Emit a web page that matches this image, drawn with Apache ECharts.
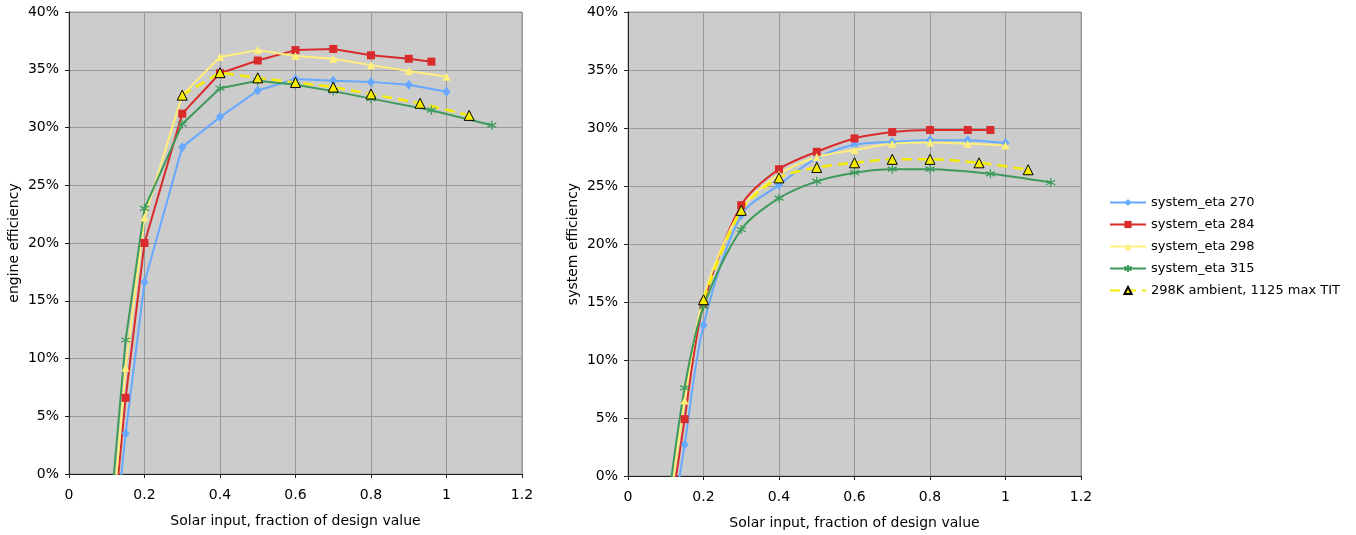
<!DOCTYPE html>
<html lang="en">

<head>
    <meta charset="UTF-8">
    <title>Efficiency vs solar input</title>
    <style>
        html, body {
            margin: 0;
            padding: 0;
            background: #fff;
        }
        #main {
            width: 1356px;
            height: 535px;
        }
    </style>
</head>

<body>
    <div id="main"></div>
</body>

<script src="https://cdn.jsdelivr.net/npm/echarts@6/dist/echarts.min.js"></script>
<script>
    // x values (fraction of design solar input)
    var x270 = [0.1, 0.15, 0.2, 0.3, 0.4, 0.5, 0.6, 0.7, 0.8, 0.9, 1.0];
    var x284 = [0.1, 0.15, 0.2, 0.3, 0.4, 0.5, 0.6, 0.7, 0.8, 0.9, 0.96];
    var x298 = [0.1, 0.15, 0.2, 0.3, 0.4, 0.5, 0.6, 0.7, 0.8, 0.9, 1.0];
    var x315 = [0.1, 0.15, 0.2, 0.3, 0.4, 0.5, 0.6, 0.7, 0.8, 0.96, 1.12];
    var xAmbLeft = [0.3, 0.4, 0.5, 0.6, 0.7, 0.8, 0.93, 1.06];
    var xAmbRight = [0.2, 0.3, 0.4, 0.5, 0.6, 0.7, 0.8, 0.93, 1.06];

    // engine efficiency, % (left chart)
    var eng270 = [-12.3, 3.5, 16.6, 28.3, 30.9, 33.2, 34.2, 34.05, 33.95, 33.7, 33.1];
    var eng284 = [-10.7, 6.6, 20.0, 31.2, 34.7, 35.8, 36.7, 36.8, 36.25, 35.95, 35.7];
    var eng298 = [-9.9, 9.2, 22.2, 32.8, 36.1, 36.7, 36.2, 35.95, 35.4, 34.9, 34.4];
    var eng315 = [-7.1, 11.6, 23.0, 30.3, 33.4, 34.05, 33.7, 33.15, 32.5, 31.5, 30.2];
    var engAmb = [32.8, 34.75, 34.3, 33.9, 33.5, 32.9, 32.1, 31.05];

    // system efficiency, % (right chart)
    var sys270 = [-7.7, 2.7, 13.0, 22.5, 25.1, 27.4, 28.55, 28.8, 28.95, 28.95, 28.7];
    var sys284 = [-6.2, 4.9, 14.85, 23.35, 26.45, 27.95, 29.1, 29.65, 29.83, 29.83, 29.83];
    var sys298 = [-5.1, 6.5, 15.4, 23.0, 26.0, 27.5, 28.1, 28.65, 28.75, 28.65, 28.5];
    var sys315 = [-3.9, 7.6, 14.6, 21.25, 23.95, 25.4, 26.15, 26.45, 26.45, 26.05, 25.3];
    var sysAmb = [15.2, 22.9, 25.7, 26.6, 27.0, 27.3, 27.3, 27.0, 26.4];

    var names = ['system_eta 270', 'system_eta 284', 'system_eta 298', 'system_eta 315', '298K ambient, 1125 max TIT'];

    function pairs(xs, ys) {
        return xs.map(function(x, i) {
            return [x, ys[i]];
        });
    }

    var font = 'DejaVu Sans';
    var asterisk = 'path://M0,-5L0,5M-4.3,-2.5L4.3,2.5M-4.3,2.5L4.3,-2.5';

    function makeSeries(idx, ys, smooth) {
        var xs = [x270, x284, x298, x315][idx];
        var base = {
            name: names[idx],
            type: 'line',
            xAxisIndex: smooth ? 1 : 0,
            yAxisIndex: smooth ? 1 : 0,
            data: pairs(xs, ys),
            smooth: smooth ? 0.3 : false,
            lineStyle: {
                width: 2
            }
        };
        if (idx === 0) {
            base.symbol = 'diamond';
            base.symbolSize = [8, 10];
            base.itemStyle = { color: '#66A9FF' };
        } else if (idx === 1) {
            base.symbol = 'rect';
            base.symbolSize = 8;
            base.itemStyle = { color: '#D92B2B' };
        } else if (idx === 2) {
            base.symbol = 'triangle';
            base.symbolSize = 8;
            base.itemStyle = { color: '#FFEF7A' };
        } else {
            base.symbol = asterisk;
            base.symbolSize = 9;
            base.itemStyle = { color: '#3E9A5C', borderColor: '#3E9A5C', borderWidth: 1.3 };
        }
        return base;
    }

    function ambSeries(xs, ys, right) {
        return {
            name: names[4],
            type: 'line',
            xAxisIndex: right ? 1 : 0,
            yAxisIndex: right ? 1 : 0,
            data: pairs(xs, ys),
            smooth: right ? 0.3 : false,
            symbol: 'triangle',
            symbolSize: 10,
            itemStyle: {
                color: '#F5EC00',
                borderColor: '#000',
                borderWidth: 1
            },
            lineStyle: {
                color: '#F5EC00',
                width: 2.5,
                type: [10, 6]
            },
            z: 3
        };
    }

    function xAxis(gridIndex) {
        return {
            type: 'value',
            gridIndex: gridIndex,
            min: 0,
            max: 1.2,
            interval: 0.2,
            name: 'Solar input, fraction of design value',
            nameLocation: 'middle',
            nameGap: 40,
            nameTextStyle: { color: '#000', fontFamily: font, fontSize: 14 },
            axisLine: { onZero: false, lineStyle: { color: '#222', width: 1 } },
            axisTick: { show: true, length: 4, lineStyle: { color: '#222' } },
            axisLabel: { color: '#000', fontFamily: font, fontSize: 14, margin: 14 },
            splitLine: { show: true, lineStyle: { color: '#999', width: 1 } }
        };
    }

    function yAxis(gridIndex, title) {
        return {
            type: 'value',
            gridIndex: gridIndex,
            min: 0,
            max: 40,
            interval: 5,
            name: title,
            nameLocation: 'middle',
            nameGap: 48,
            nameTextStyle: { color: '#000', fontFamily: font, fontSize: 14 },
            axisLine: { show: true, lineStyle: { color: '#222', width: 1 } },
            axisTick: { show: true, length: 4, lineStyle: { color: '#222' } },
            axisLabel: { color: '#000', fontFamily: font, fontSize: 14, margin: 10, formatter: '{value}%' },
            splitLine: { show: true, lineStyle: { color: '#999', width: 1 } }
        };
    }

    var myChart = echarts.init(document.getElementById('main'));
    myChart.setOption({
        animation: false,
        backgroundColor: '#fff',
        textStyle: { fontFamily: font },
        grid: [{
            left: 69,
            top: 12,
            width: 453,
            height: 462,
            show: true,
            backgroundColor: '#CCCCCC',
            borderColor: '#999',
            borderWidth: 1
        }, {
            left: 628,
            top: 12,
            width: 453,
            height: 464,
            show: true,
            backgroundColor: '#CCCCCC',
            borderColor: '#999',
            borderWidth: 1
        }],
        xAxis: [xAxis(0), xAxis(1)],
        yAxis: [yAxis(0, 'engine efficiency'), yAxis(1, 'system efficiency')],
        legend: {
            orient: 'vertical',
            left: 1104,
            top: 191,
            itemWidth: 36,
            itemHeight: 9,
            itemGap: 9,
            textStyle: { color: '#000', fontFamily: font, fontSize: 13 },
            data: names
        },
        series: [
            makeSeries(0, eng270, false),
            makeSeries(1, eng284, false),
            makeSeries(2, eng298, false),
            makeSeries(3, eng315, false),
            ambSeries(xAmbLeft, engAmb, false),
            makeSeries(0, sys270, true),
            makeSeries(1, sys284, true),
            makeSeries(2, sys298, true),
            makeSeries(3, sys315, true),
            ambSeries(xAmbRight, sysAmb, true)
        ]
    });
</script>

</html>
